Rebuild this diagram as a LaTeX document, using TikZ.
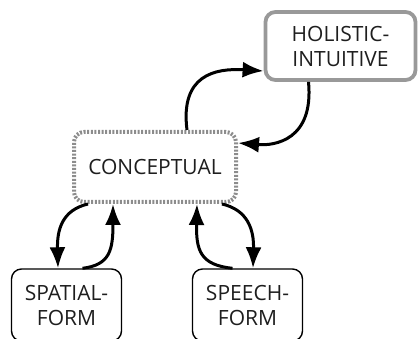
\documentclass[tikz,border=0pt]{standalone}
\usepackage{fontspec}
\setmainfont{Open Sans}
\usetikzlibrary{arrows.meta,calc}
\definecolor{ink}{HTML}{1E1E1E}
\tikzset{
  box/.style={draw, rounded corners=10pt, align=center, inner sep=0pt, text=ink, font=\fontsize{21}{25}\selectfont},
  plainbox/.style={box, line width=1.4pt, minimum width=110pt, minimum height=72pt},
  holbox/.style={box, draw=black!40, line width=3.8pt, minimum width=150pt, minimum height=68pt},
  conbox/.style={box, draw=black!45, line width=4pt, dash pattern=on 2pt off 1.6pt, minimum width=162pt, minimum height=70pt},
  link/.style={line width=3pt, -{Latex[length=21pt,width=16pt]}}
}
\begin{document}
\begin{tikzpicture}[x=1pt,y=-1pt]
\useasboundingbox (0,0) rectangle (418,339);
\node[holbox] (H) at (340.5,46) {HOLISTIC-\\INTUITIVE};
\node[conbox] (C) at (155,167) {CONCEPTUAL};
\node[plainbox] (S) at (66.5,305) {SPATIAL-\\FORM};
\node[plainbox] (P) at (247.5,305) {SPEECH-\\FORM};
\draw[link] ([xshift=32]C.north) .. controls (180,75) and (215,68) .. ([yshift=-25]H.west);
\draw[link] ([xshift=-32]H.south) .. controls (314,140) and (275,146) .. ([yshift=24]C.east);
\draw[link] ([xshift=-67]C.south) .. controls (62,210) and (57,230) .. ([xshift=-8.5]S.north);
\draw[link] ([xshift=16]S.north) .. controls (110,265) and (113,250) .. ([xshift=-42]C.south);
\draw[link] ([xshift=-15]P.north) .. controls (200,265) and (196,250) .. ([xshift=42]C.south);
\draw[link] ([xshift=67]C.south) .. controls (248,210) and (254,230) .. ([xshift=5.5]P.north);
\end{tikzpicture}
\end{document}
